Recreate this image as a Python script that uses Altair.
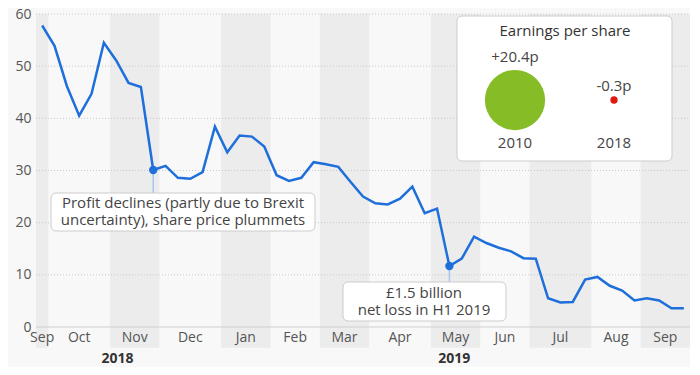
import altair as alt
import pandas as pd

# ---- data ----
price = [57.8, 53.9, 46.2, 40.5, 44.7, 54.5, 51.1, 46.8, 46.0, 30.1, 30.9, 28.6, 28.4,
         29.7, 38.4, 33.5, 36.7, 36.5, 34.6, 29.1, 28.0, 28.6, 31.6, 31.2, 30.7, 27.8,
         25.0, 23.7, 23.5, 24.6, 26.9, 21.8, 22.7, 11.7, 13.1, 17.3, 16.1, 15.2, 14.5,
         13.2, 13.1, 5.5, 4.7, 4.8, 9.1, 9.6, 7.9, 7.0, 5.1, 5.5, 5.1, 3.6, 3.6]
week_start = "2018-09-24"
months = ["Sep", "Oct", "Nov", "Dec", "Jan", "Feb", "Mar", "Apr", "May", "Jun", "Jul", "Aug", "Sep"]
weeks_per_month = [1, 5, 4, 5, 4, 4, 4, 5, 4, 4, 5, 4, 4]
years = ["2018", "2019"]
year_pos = [6.1, 33.4]
y_ticks = [0, 10, 20, 30, 40, 50, 60]
eps_labels = ["+20.4p", "-0.3p"]
eps_years = ["2010", "2018"]
eps_values = [20.4, -0.3]
eps_colors = ["#86bc25", "#e0190f"]
ann_idx = [9, 33]
ann_text = [["Profit declines (partly due to Brexit", "uncertainty), share price plummets"],
            ["£1.5 billion", "net loss in H1 2019"]]

FONT = "Open Sans"
BLUE = "#1f6fdb"
W, H = 654, 313

n = len(price)
df = pd.DataFrame({"idx": list(range(n)), "price": price,
                   "date": pd.date_range(week_start, periods=n, freq="7D")})

starts, ends, centers = [], [], []
s = 0
for c in weeks_per_month:
    starts.append(s - 0.5)
    ends.append(s + c - 0.5)
    centers.append(s + (c - 1) / 2)
    s += c
bands = pd.DataFrame({"m": months, "x0": starts, "x1": ends, "xc": centers,
                      "shade": [i % 2 == 0 for i in range(len(months))]})

X_SCALE = alt.Scale(domain=[-0.5, n - 0.5], nice=False, zero=False)
Y_SCALE = alt.Scale(domain=[0, 60], nice=False, zero=False)
Y_AXIS = alt.Axis(values=y_ticks, grid=False, domain=False, ticks=False, labelPadding=5,
                  labelFontSize=14, labelColor="#555555", labelFont=FONT, title=None)


def X(field):
    return alt.X(field, type="quantitative", scale=X_SCALE, axis=None, title=None)


def Y(field):
    return alt.Y(field, type="quantitative", scale=Y_SCALE, axis=Y_AXIS, title=None)


band_layer = alt.Chart(bands).transform_filter("datum.shade").transform_calculate(
    top="60", bot="-4").mark_rect(color="#ececec").encode(
    x=X("x0"), x2="x1", y=Y("top:Q"), y2="bot:Q")

grid = alt.Chart(pd.DataFrame({"g": y_ticks[1:]})).mark_rule(
    color="#c8c8c8", strokeDash=[1, 2], strokeWidth=1).encode(
    y=Y("g"), x=alt.value(0), x2=alt.value(W))

baseline = alt.Chart(pd.DataFrame({"g": [0]})).mark_rule(
    color="#cfcfcf", strokeWidth=1).encode(y=Y("g"), x=alt.value(0), x2=alt.value(W))

month_labels = alt.Chart(bands).transform_calculate(yy="-2.1").mark_text(
    font=FONT, fontSize=14, color="#555555", baseline="middle").encode(
    x=X("xc"), y=Y("yy:Q"), text="m:N")

year_labels = alt.Chart(pd.DataFrame({"y": years, "p": year_pos})).transform_calculate(
    yy="-6.1").mark_text(font=FONT, fontSize=14, fontWeight="bold", color="#333333",
                          baseline="middle").encode(x=X("p"), y=Y("yy:Q"), text="y:N")

ann_df = df.iloc[ann_idx].reset_index(drop=True)

ann_rule1 = alt.Chart(ann_df.iloc[[0]]).mark_rule(color="#a6c6f0", strokeWidth=1.5).encode(
    x=X("idx"), y=Y("price"), y2=alt.value(179))
ann_rule2 = alt.Chart(ann_df.iloc[[1]]).mark_rule(color="#a6c6f0", strokeWidth=1.5).encode(
    x=X("idx"), y=Y("price"), y2=alt.value(268))

line = alt.Chart(df).mark_line(color=BLUE, strokeWidth=2.5).encode(
    x=X("idx"), y=Y("price"))

ann_points = alt.Chart(ann_df).mark_circle(color=BLUE, size=70, opacity=1).encode(
    x=X("idx"), y=Y("price"))


def box(x0, x1, y0, y1):
    return alt.Chart(pd.DataFrame({"a": [0]})).mark_rect(
        fill="white", stroke="#cccccc", strokeWidth=1, cornerRadius=5).encode(
        x=alt.value(x0), x2=alt.value(x1), y=alt.value(y0), y2=alt.value(y1))


def label(txt, x, y, size=15, color="#444444", weight="normal"):
    return alt.Chart(pd.DataFrame({"t": [txt]})).mark_text(
        font=FONT, fontSize=size, color=color, fontWeight=weight, baseline="middle",
        align="center").encode(text="t:N", x=alt.value(x), y=alt.value(y))


box1 = box(15, 279, 179, 217)
t1a = label(ann_text[0][0], 147, 189)
t1b = label(ann_text[0][1], 147, 206)
box2 = box(307, 470, 268, 307)
t2a = label(ann_text[1][0], 388, 279)
t2b = label(ann_text[1][1], 388, 296)

inset = box(421, 636, 2, 147)
inset_title = label("Earnings per share", 529, 17, size=15, color="#333333", weight=500)

eps_df = pd.DataFrame({"lab": eps_labels, "yr": eps_years, "v": eps_values,
                       "col": eps_colors})
eps_df["absv"] = eps_df["v"].abs()
SIZE_SCALE = alt.Scale(domain=[0, 20.4], range=[0, 3630])

eps_layers = []
for i, px in enumerate([479, 578]):
    row = eps_df.iloc[[i]]
    eps_layers.append(alt.Chart(row).mark_circle(opacity=1).encode(
        x=alt.value(px), y=alt.value(86),
        size=alt.Size("absv:Q", scale=SIZE_SCALE, legend=None),
        color=alt.Color("col:N", scale=None)))
    eps_layers.append(label(eps_labels[i], px, 43 if i == 0 else 72))
    eps_layers.append(label(eps_years[i], px, 129))

chart = alt.layer(
    band_layer, grid, baseline, month_labels, year_labels,
    ann_rule1, ann_rule2, line, ann_points,
    box1, t1a, t1b, box2, t2a, t2b,
    inset, inset_title, *eps_layers
).properties(
    width=W, height=H,
    autosize=alt.AutoSizeParams(type="none"),
    padding={"left": 28, "top": 6, "right": 0, "bottom": 40},
    background="#f8f8f8",
).configure_view(stroke=None)

chart.save("out.html", embed_options={"renderer": "svg", "actions": False})
